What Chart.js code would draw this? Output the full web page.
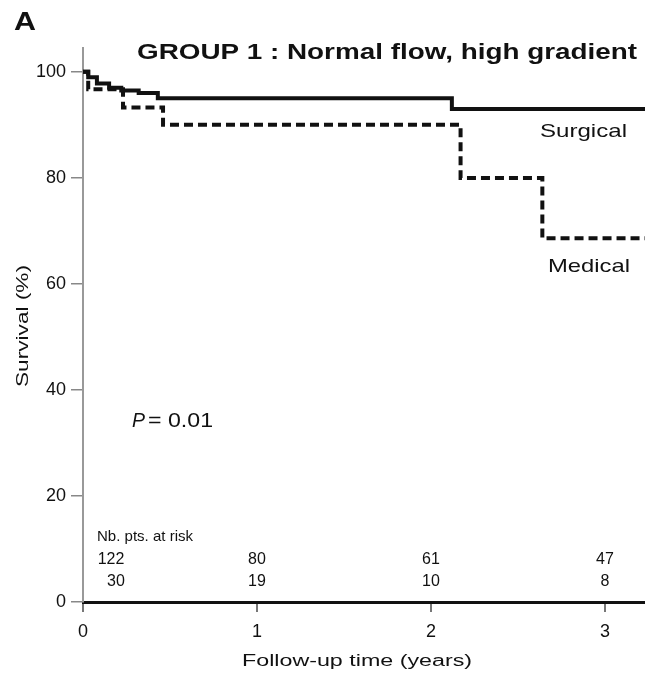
<!DOCTYPE html>
<html>
<head>
<meta charset="utf-8">
<script src="https://cdn.jsdelivr.net/npm/chart.js@4"></script>
<style>
  body { margin: 0; background: #fff; }
  #wrap { width: 645px; height: 684px; }
</style>
</head>
<body>
<div id="wrap"><canvas id="km" width="645" height="684"></canvas></div>
<script>
// Kaplan-Meier steps (time in years, survival in %)
var surgicalTime = [0, 0.03, 0.08, 0.15, 0.22, 0.32, 0.43, 2.12, 3.23];
var surgicalSurv = [100, 99, 97.8, 97, 96.5, 96, 95, 93, 93];
var medicalTime = [0, 0.03, 0.23, 0.46, 2.17, 2.64, 3.23];
var medicalSurv = [100, 96.7, 93.3, 90, 80, 68.6, 68.6];

// Number at risk table
var riskTimes = [0, 1, 2, 3];
var riskSurgical = [122, 80, 61, 47];
var riskMedical = [30, 19, 10, 8];

var xTicks = [0, 1, 2, 3];
var yTicks = [0, 20, 40, 60, 80, 100];

function toPoints(t, s) {
    return t.map(function(v, i) { return { x: v, y: s[i] }; });
}

// draw text squeezed/stretched to a given width (the scan's lettering is wide)
function wideText(ctx, text, x, y, width, font) {
    ctx.save();
    ctx.font = font;
    ctx.textAlign = 'left';
    ctx.textBaseline = 'middle';
    var w = ctx.measureText(text).width;
    ctx.translate(x, y);
    ctx.scale(width / w, 1);
    ctx.fillText(text, 0, 0);
    ctx.restore();
}

var labelsPlugin = {
    id: 'labels',
    afterDraw: function(chart) {
        var ctx = chart.ctx;
        var xs = chart.scales.x;
        ctx.fillStyle = '#111';

        wideText(ctx, 'A', 14, 23, 22, 'bold 25px "Liberation Sans", Arial');
        wideText(ctx, 'GROUP 1 : Normal flow, high gradient', 137, 53, 500, 'bold 22px "Liberation Sans", Arial');
        wideText(ctx, 'Surgical', 540, 132, 87, '19px "Liberation Sans", Arial');
        wideText(ctx, 'Medical', 548, 267, 82, '19px "Liberation Sans", Arial');

        // P value
        wideText(ctx, 'P', 132, 421, 13, 'italic 20px "Liberation Sans", Arial');
        wideText(ctx, '= 0.01', 148, 421, 65, '20px "Liberation Sans", Arial');

        // numbers at risk
        wideText(ctx, 'Nb. pts. at risk', 97, 537, 96, '15px "Liberation Sans", Arial');
        ctx.font = '16px "Liberation Sans", Arial';
        ctx.textAlign = 'center';
        ctx.textBaseline = 'middle';
        riskTimes.forEach(function(t, i) {
            var px = xs.getPixelForValue(t) + (t === 0 ? 28 : 0);
            ctx.fillText(String(riskSurgical[i]), px, 560);
            ctx.fillText(String(riskMedical[i]), px + (t === 0 ? 5 : 0), 582);
        });

        // axis titles
        wideText(ctx, 'Follow-up time (years)', 242, 662, 230, '16px "Liberation Sans", Arial');
        ctx.save();
        ctx.translate(24, 387);
        ctx.rotate(-Math.PI / 2);
        wideText(ctx, 'Survival (%)', 0, 0, 122, '16px "Liberation Sans", Arial');
        ctx.restore();
    }
};

new Chart(document.getElementById('km'), {
    type: 'line',
    data: {
        datasets: [{
            label: 'Surgical',
            data: toPoints(surgicalTime, surgicalSurv),
            borderColor: '#111',
            borderWidth: 4,
            stepped: 'before',
            pointRadius: 0,
            fill: false
        }, {
            label: 'Medical',
            data: toPoints(medicalTime, medicalSurv),
            borderColor: '#111',
            borderWidth: 4,
            borderDash: [9, 5],
            stepped: 'before',
            pointRadius: 0,
            fill: false
        }]
    },
    options: {
        responsive: false,
        animation: false,
        devicePixelRatio: 1,
        layout: { padding: { top: 48, left: 0, right: 0, bottom: 0 } },
        plugins: {
            legend: { display: false },
            tooltip: { enabled: false }
        },
        scales: {
            x: {
                type: 'linear',
                min: 0,
                max: 3.23,
                afterBuildTicks: function(s) { s.ticks = xTicks.map(function(v) { return { value: v }; }); },
                afterFit: function(s) { s.height = 82; },
                grid: { drawOnChartArea: false, drawTicks: true, tickLength: 10, color: '#777', lineWidth: 2 },
                border: { color: '#111', width: 3 },
                ticks: {
                    color: '#111',
                    padding: 9,
                    maxRotation: 0,
                    font: { family: '"Liberation Sans", Arial', size: 18 }
                }
            },
            y: {
                min: 0,
                max: 104.5,
                afterBuildTicks: function(s) { s.ticks = yTicks.map(function(v) { return { value: v }; }); },
                afterFit: function(s) { s.width = 83; },
                grid: { drawOnChartArea: false, drawTicks: true, tickLength: 12, color: '#888', lineWidth: 1.5 },
                border: { color: '#999', width: 2 },
                ticks: {
                    color: '#111',
                    padding: 5,
                    font: { family: '"Liberation Sans", Arial', size: 18 }
                }
            }
        }
    },
    plugins: [labelsPlugin]
});
</script>
</body>
</html>
